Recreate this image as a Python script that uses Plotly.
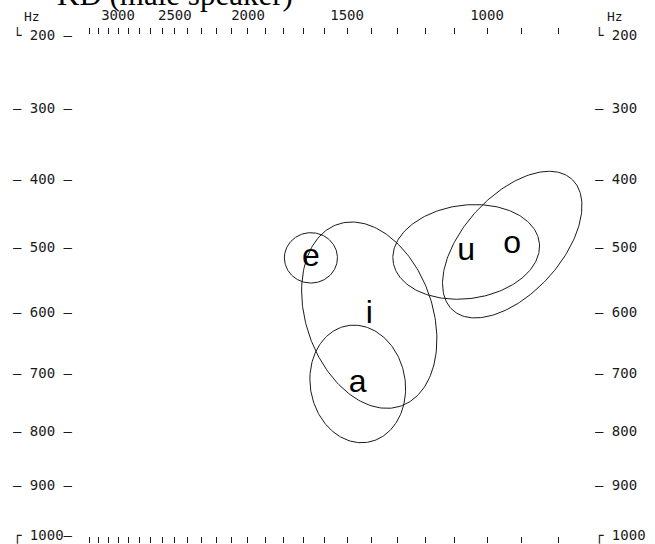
import numpy as np
import plotly.graph_objects as go

# ---------------- data ----------------
vowels = ["e", "i", "a", "u", "o"]
f2_mean_hz = [1664, 1408, 1455, 1064, 926]
f1_mean_hz = [516, 605, 718, 507, 496]
f2_sd_bark = [0.51, 1.30, 0.92, 1.41, 1.34]
f1_sd_bark = [0.33, 1.22, 0.77, 0.62, 0.96]
f1f2_corr = [0.0, -0.26, -0.08, 0.12, 0.53]

f1_ticks_hz = [200, 300, 400, 500, 600, 700, 800, 900, 1000]
f1_left_labels = ["└ 200 –", "– 300 –", "– 400 –", "– 500 –", "– 600 –",
                  "– 700 –", "– 800 –", "– 900 –", "┌ 1000–"]
f1_right_labels = ["└ 200", "– 300", "– 400", "– 500", "– 600",
                   "– 700", "– 800", "– 900", "┌ 1000"]
f2_ticks_hz = list(range(800, 3400, 100))
f2_labelled_hz = [1000, 1500, 2000, 2500, 3000]
title_text = "KD (male speaker)"
unit_text = "Hz"


def bark(f):
    f = np.asarray(f, dtype=float)
    return 13 * np.arctan(0.00076 * f) + 3.5 * np.arctan((f / 7500.0) ** 2)


# ---------------- layout geometry ----------------
W, H = 655, 544
PL, PR, PT, PB = 75, 592, 35, 536          # plot area in pixels
# calibration of the scales (pixel positions of reference frequencies)
X_REF = (1000, 487.0, 3000, 118.0)
Y_REF = (200, 35.5, 1000, 535.5)

bx1, bx2 = bark(X_REF[0]), bark(X_REF[2])
x_per_px = (bx2 - bx1) / (X_REF[3] - X_REF[1])
x_left = bx1 + (PL - X_REF[1]) * x_per_px
x_right = bx1 + (PR - X_REF[1]) * x_per_px

by1, by2 = bark(Y_REF[0]), bark(Y_REF[2])
y_per_px = (by2 - by1) / (Y_REF[3] - Y_REF[1])
y_top = by1 + (PT - Y_REF[1]) * y_per_px
y_bot = by1 + (PB - Y_REF[1]) * y_per_px


def paper_x(px):
    return (px - PL) / (PR - PL)


def paper_y(py):
    return (PB - py) / (PB - PT)


INK = "#1a1a1a"
MONO = "DejaVu Sans Mono"

fig = go.Figure()

t = np.linspace(0, 2 * np.pi, 241)
for v, f2, f1, sx, sy, r in zip(vowels, f2_mean_hz, f1_mean_hz,
                                f2_sd_bark, f1_sd_bark, f1f2_corr):
    cx, cy = bark(f2), bark(f1)
    ex = cx + sx * np.cos(t)
    ey = cy + sy * (r * np.cos(t) + np.sqrt(1 - r * r) * np.sin(t))
    fig.add_trace(go.Scatter(x=ex, y=ey, mode="lines",
                             line=dict(color=INK, width=1),
                             hoverinfo="skip", showlegend=False))

fig.add_trace(go.Scatter(x=bark(f2_mean_hz), y=bark(f1_mean_hz), mode="text",
                         text=vowels, textposition="middle center",
                         textfont=dict(family="Liberation Sans", size=32, color="#000"),
                         hoverinfo="skip", showlegend=False))

# invisible trace so the right-hand axis is drawn
fig.add_trace(go.Scatter(x=bark(f2_mean_hz), y=bark(f1_mean_hz), yaxis="y2",
                         mode="markers", marker=dict(opacity=0),
                         hoverinfo="skip", showlegend=False))

f2_text = [str(f) if f in f2_labelled_hz else "" for f in f2_ticks_hz]

fig.update_layout(
    width=W, height=H,
    margin=dict(l=PL, r=W - PR, t=PT, b=H - PB, autoexpand=False),
    paper_bgcolor="white", plot_bgcolor="white",
    showlegend=False,
    xaxis=dict(range=[x_left, x_right], side="top", automargin=False,
               tickmode="array", tickvals=bark(f2_ticks_hz), ticktext=f2_text,
               ticks="outside", ticklen=6, tickwidth=1.3, tickcolor=INK,
               mirror="ticks", showline=False, showgrid=False, zeroline=False,
               tickfont=dict(family=MONO, size=14, color=INK),
               ticklabelstandoff=2, ticklabeloverflow="allow", fixedrange=True),
    yaxis=dict(range=[y_bot, y_top], automargin=False,
               tickmode="array", tickvals=bark(f1_ticks_hz), ticktext=f1_left_labels,
               ticks="", showline=False, showgrid=False, zeroline=False,
               tickfont=dict(family=MONO, size=14, color=INK),
               ticklabelstandoff=2, ticklabeloverflow="allow", fixedrange=True),
    yaxis2=dict(range=[y_bot, y_top], overlaying="y", side="right", automargin=False,
                tickmode="array", tickvals=bark(f1_ticks_hz), ticktext=f1_right_labels,
                ticks="", showline=False, showgrid=False, zeroline=False,
                tickfont=dict(family=MONO, size=14, color=INK),
                ticklabelstandoff=2, ticklabeloverflow="allow", fixedrange=True),
    annotations=[
        dict(text=title_text, xref="paper", yref="paper",
             x=paper_x(175), y=paper_y(-6), xanchor="center", yanchor="middle",
             showarrow=False,
             font=dict(family="Liberation Serif", size=31, color="#000")),
        dict(text=unit_text, xref="paper", yref="paper",
             x=paper_x(32), y=paper_y(16), xanchor="center", yanchor="middle",
             showarrow=False, font=dict(family=MONO, size=13, color=INK)),
        dict(text=unit_text, xref="paper", yref="paper",
             x=paper_x(615), y=paper_y(16), xanchor="center", yanchor="middle",
             showarrow=False, font=dict(family=MONO, size=13, color=INK)),
    ],
)

fig.write_html("out.html", config={"displayModeBar": False},
               post_script="document.body.style.margin='0';")
